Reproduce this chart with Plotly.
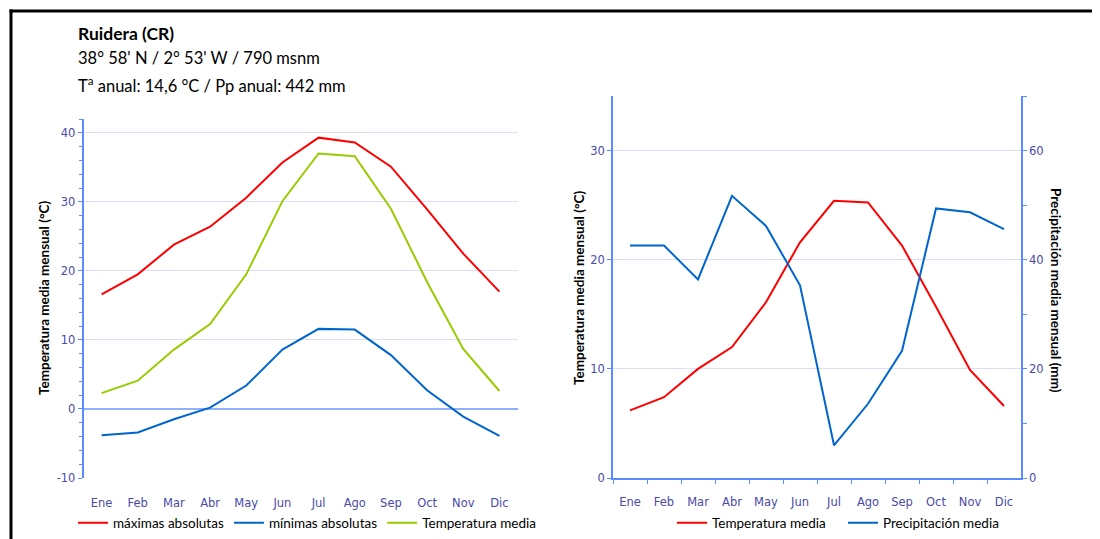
import plotly.graph_objects as go

months = ["Ene", "Feb", "Mar", "Abr", "May", "Jun", "Jul", "Ago", "Sep", "Oct", "Nov", "Dic"]
max_abs = [16.6, 19.5, 23.8, 26.4, 30.6, 35.7, 39.3, 38.6, 35.1, 28.9, 22.5, 17.0]
min_abs = [-3.8, -3.4, -1.5, 0.2, 3.4, 8.6, 11.6, 11.5, 7.8, 2.7, -1.1, -3.9]
temp_media_left = [2.3, 4.1, 8.6, 12.3, 19.5, 30.1, 37.0, 36.6, 29.0, 18.4, 8.7, 2.6]
temp_media = [6.2, 7.4, 10.0, 12.0, 16.1, 21.6, 25.4, 25.25, 21.3, 15.7, 9.9, 6.6]
precip = [42.6, 42.6, 36.4, 51.7, 46.2, 35.3, 6.0, 13.6, 23.3, 49.4, 48.7, 45.6]
left_ticks = [-10, 0, 10, 20, 30, 40]
left_ticktext = ["-10", "0", "10", "20", "30", "40"]

# page body has an 8px margin: coordinates offset accordingly
OFF = 8
W, H = 1100, 531
def px(x): return (x - OFF) / W
def py(y): return 1 - (y - OFF) / H

RED = "#ff0000"
BLUE = "#0066cc"
GREEN = "#99cc00"
AXIS = "#5b8cff"
GRID = "#dcdcff"
TICKC = "#4a4aa8"
tickfont = dict(family="DejaVu Sans", size=11.5, color=TICKC)
txtfont = "Lato"

fig = go.Figure()
fig.add_trace(go.Scatter(x=months, y=max_abs, name="máximas absolutas", mode="lines",
                         line=dict(color=RED, width=2), xaxis="x", yaxis="y", legend="legend"))
fig.add_trace(go.Scatter(x=months, y=min_abs, name="mínimas absolutas", mode="lines",
                         line=dict(color=BLUE, width=2), xaxis="x", yaxis="y", legend="legend"))
fig.add_trace(go.Scatter(x=months, y=temp_media_left, name="Temperatura media", mode="lines",
                         line=dict(color=GREEN, width=2), xaxis="x", yaxis="y", legend="legend"))
fig.add_trace(go.Scatter(x=months, y=temp_media, name="Temperatura media", mode="lines",
                         line=dict(color=RED, width=2), xaxis="x2", yaxis="y2", legend="legend2"))
fig.add_trace(go.Scatter(x=months, y=precip, name="Precipitación media", mode="lines",
                         line=dict(color=BLUE, width=2), xaxis="x2", yaxis="y3", legend="legend3"))

legfont = dict(family=txtfont, size=13.5, color="black")
fig.update_layout(
    width=W, height=H, margin=dict(l=0, r=0, t=0, b=0),
    paper_bgcolor="white", plot_bgcolor="white",
    xaxis=dict(domain=[px(83.5), px(517.5)], anchor="y", range=[-0.5, 11.5],
               showline=False, showgrid=False, zeroline=False, ticks="",
               tickfont=tickfont, ticklabelstandoff=16, automargin=False),
    yaxis=dict(domain=[py(478), py(119)], anchor="x", range=[-10, 42],
               tickvals=left_ticks, ticktext=left_ticktext,
               showline=True, linecolor=AXIS, linewidth=1.5,
               showgrid=True, gridcolor=GRID, gridwidth=1,
               zeroline=True, zerolinecolor="#8fb0ff", zerolinewidth=1.5,
               ticks="outside", ticklen=4, tickcolor=AXIS,
               minor=dict(dtick=2, tick0=0, ticks="outside", ticklen=3, tickcolor=AXIS, showgrid=False),
               tickfont=tickfont, automargin=False),
    xaxis2=dict(domain=[px(613), px(1021)], anchor="y2", range=[-0.5, 11.5],
                showline=True, linecolor=AXIS, linewidth=1.5,
                showgrid=False, zeroline=False,
                ticks="outside", tickson="boundaries", ticklen=4, tickcolor=AXIS,
                tickfont=tickfont, ticklabelstandoff=12, automargin=False),
    yaxis2=dict(domain=[py(478), py(96)], anchor="x2", range=[0, 35],
                tickvals=[0, 10, 20, 30],
                showline=True, linecolor=AXIS, linewidth=1.5,
                showgrid=True, gridcolor=GRID, zeroline=False,
                ticks="outside", ticklen=4, tickcolor=AXIS,
                tickfont=tickfont, automargin=False),
    yaxis3=dict(overlaying="y2", side="right", anchor="x2", range=[0, 70],
                tickvals=[0, 20, 40, 60],
                showline=True, linecolor=AXIS, linewidth=1.5,
                showgrid=False, zeroline=False,
                ticks="outside", ticklen=4, tickcolor=AXIS,
                minor=dict(dtick=10, tick0=0, ticks="outside", ticklen=4, tickcolor=AXIS, showgrid=False),
                tickfont=tickfont, automargin=False),
    legend=dict(orientation="h", x=px(73), y=py(523), xanchor="left", yanchor="middle",
                font=legfont, itemwidth=30, bgcolor="rgba(0,0,0,0)"),
    legend2=dict(orientation="h", x=px(672), y=py(523), xanchor="left", yanchor="middle",
                 font=legfont, itemwidth=30, bgcolor="rgba(0,0,0,0)"),
    legend3=dict(orientation="h", x=px(843), y=py(523), xanchor="left", yanchor="middle",
                 font=legfont, itemwidth=30, bgcolor="rgba(0,0,0,0)"),
    showlegend=True,
)

titlefont = dict(family=txtfont, size=16.5, color="black")
boldfont = dict(family=txtfont, size=17.5, color="black")
axtitlefont = dict(family=txtfont, size=13.5, color="black")
ann = []
ann.append(dict(text="<b>Ruidera (CR)</b>", x=px(76), y=py(33), xref="paper", yref="paper",
                xanchor="left", yanchor="middle", showarrow=False, font=boldfont))
ann.append(dict(text="38° 58' N / 2° 53' W / 790 msnm", x=px(76), y=py(58), xref="paper", yref="paper",
                xanchor="left", yanchor="middle", showarrow=False, font=titlefont))
ann.append(dict(text="T<sup>a</sup> anual: 14,6 °C / Pp anual: 442 mm", x=px(76), y=py(85), xref="paper", yref="paper",
                xanchor="left", yanchor="middle", showarrow=False, font=titlefont))
ann.append(dict(text="<b>Temperatura media mensual (°C)</b>", x=px(44), y=py(298), xref="paper", yref="paper",
                xanchor="center", yanchor="middle", showarrow=False, textangle=-90, font=axtitlefont))
ann.append(dict(text="<b>Temperatura media mensual (°C)</b>", x=px(579), y=py(288), xref="paper", yref="paper",
                xanchor="center", yanchor="middle", showarrow=False, textangle=-90, font=axtitlefont))
ann.append(dict(text="<b>Precipitación media mensual (mm)</b>", x=px(1056), y=py(290), xref="paper", yref="paper",
                xanchor="center", yanchor="middle", showarrow=False, textangle=90, font=axtitlefont))
fig.update_layout(annotations=ann)

fig.update_layout(shapes=[
    dict(type="line", xref="paper", yref="paper", x0=px(9.5), x1=1, y0=py(11), y1=py(11),
         line=dict(color="black", width=3)),
    dict(type="line", xref="paper", yref="paper", x0=px(11), x1=px(11), y0=py(9.5), y1=0,
         line=dict(color="black", width=3)),
])

fig.write_html("out.html")
